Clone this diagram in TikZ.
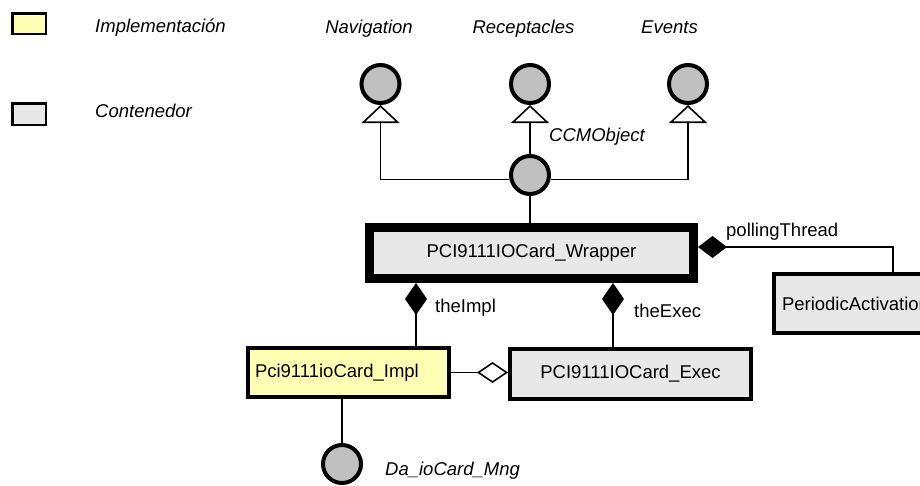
\documentclass[tikz,border=0pt]{standalone}
\usepackage{fontspec}
\setmainfont{Liberation Sans}
\usetikzlibrary{arrows.meta}
\definecolor{ifill}{HTML}{C0C0C0}
\definecolor{cfill}{HTML}{E8E8E8}
\definecolor{yfill}{HTML}{FFFFB4}
\begin{document}
\begin{tikzpicture}[x=1pt,y=-1pt,
  font=\fontsize{18.5}{22}\selectfont,
  iface/.style={circle, draw, line width=4pt, fill=ifill, minimum size=38pt, inner sep=0pt},
  lbl/.style={font=\fontsize{18.5}{22}\selectfont\itshape, inner sep=0pt},
  plain/.style={inner sep=0pt},
  conn/.style={line width=1.6pt},
  gen/.style={conn, -{Triangle[open, length=18pt, width=38pt]}},
  comp/.style={conn, -{Diamond[length=32pt, width=22pt]}},
  comph/.style={conn, -{Diamond[length=29pt, width=22pt]}},
  agg/.style={conn, -{Diamond[open, length=31pt, width=21pt]}},
  cbox/.style={draw, line width=4pt, fill=cfill},
  ybox/.style={draw, line width=4pt, fill=yfill}]
\useasboundingbox (0,0) rectangle (920,485);
\clip (0,0) rectangle (920,485);
\fill[white] (0,0) rectangle (920,485);
% legend
\node[draw, line width=2.5pt, fill=yfill, minimum width=33.5pt, minimum height=20.5pt, inner sep=0pt] (ly) at (29,23.5) {};
\node[draw, line width=2.5pt, fill=cfill, minimum width=33.5pt, minimum height=21.5pt, inner sep=0pt] (lg) at (29,114) {};
\node[lbl, anchor=base west] (lim) at (95,32) {Implementación};
\node[lbl, anchor=base west] (lco) at (95,117) {Contenedor};
% interfaces
\node[iface] (nav) at (380.5,84) {};
\node[iface] (rec) at (530,84) {};
\node[iface] (ev) at (688,84) {};
\node[iface] (ccm) at (530,175) {};
\node[iface] (da) at (342,464) {};
\node[lbl, anchor=base] (lnav) at (369,33) {Navigation};
\node[lbl, anchor=base] (lrec) at (523.5,33) {Receptacles};
\node[lbl, anchor=base] (lev) at (669.5,33) {Events};
\node[lbl, anchor=base west] (lccm) at (549,141) {CCMObject};
\node[lbl, anchor=base west] (lda) at (385,475) {Da\_ioCard\_Mng};
% boxes
\node[draw, line width=9pt, fill=cfill, minimum width=324pt, minimum height=51pt, inner sep=0pt] (wrap) at (531.5,253) {PCI9111IOCard\_Wrapper};
\node[ybox, text width=187pt, inner xsep=7pt, minimum height=49pt, align=left] (impl) at (348.5,372.5) {Pci9111ioCard\_Impl};
\node[cbox, minimum width=241pt, minimum height=50pt, inner sep=0pt] (exec) at (630.5,374) {PCI9111IOCard\_Exec};
\node[cbox, text width=200pt, inner xsep=8pt, minimum height=59pt, align=left, anchor=west] (per) at (772,303.5) {PeriodicActivation};
% connectors
\draw[gen] (ccm.192) -| (nav.south);
\draw[gen] (ccm.north) -- (rec.south);
\draw[gen] (ccm.-12) -| (ev.south);
\draw[conn] (ccm.south) -- (ccm.south |- wrap.north);
\coordinate (xi) at (416,300);
\coordinate (xe) at (613,300);
\coordinate (pt) at (893,247);
\draw[comp] (xi |- impl.north) -- (xi |- wrap.south);
\draw[comp] (xe |- exec.north) -- (xe |- wrap.south);
\draw[comph] (pt |- per.north) |- (wrap.east |- pt);
\draw[agg] (impl.east) -- (impl.east -| exec.west);
\draw[conn] (da.north) -- (da.north |- impl.south);
\node[plain, anchor=base west] (lti) at (435,312) {theImpl};
\node[plain, anchor=base west] (lte) at (634,317) {theExec};
\node[plain, anchor=base west] (lpt) at (726,236) {pollingThread};
\end{tikzpicture}
\end{document}
